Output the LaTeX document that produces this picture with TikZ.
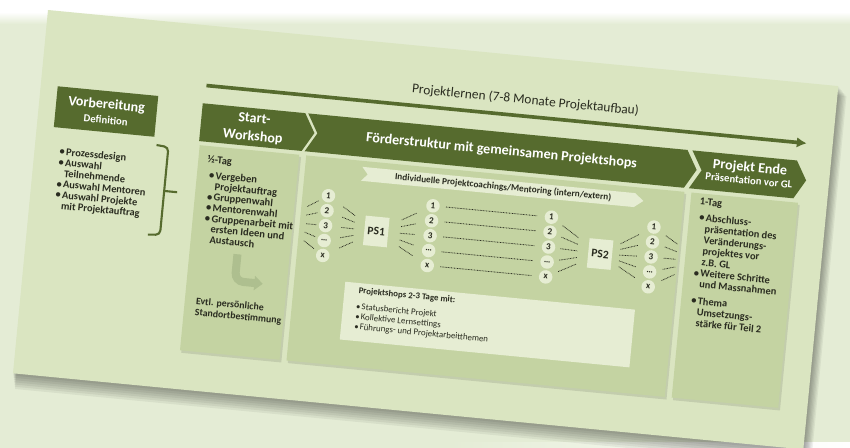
\documentclass[tikz,border=0pt]{standalone}
\usepackage{fontspec}
\setmainfont{Carlito}
\usetikzlibrary{arrows.meta,calc}

\definecolor{bggreen}{HTML}{E4ECD5}
\definecolor{slidegreen}{HTML}{DAE5C1}
\definecolor{darkolive}{HTML}{566B2E}
\definecolor{panelgreen}{HTML}{C4D3A2}
\definecolor{palegreen}{HTML}{E6EDD3}
\definecolor{stemgreen}{HTML}{AEBF8F}
\definecolor{inkgray}{HTML}{2A2C20}

\newcommand{\bl}{\makebox[1.3ex][l]{\textbullet}}
\newcommand{\ind}{\hspace*{1.3ex}}

\begin{document}
\begin{tikzpicture}[x=0.025cm, y=-0.025cm,
    >={Latex[length=7pt,width=7.5pt]},
    headtext/.style={text=white, font=\bfseries\fontsize{10}{12.8}\selectfont, align=center, inner sep=0pt},
    subtext/.style={text=white, font=\bfseries\fontsize{7.6}{9}\selectfont, inner sep=0pt},
    titletext/.style={text=inkgray, font=\fontsize{9.5}{11}\selectfont, inner sep=0pt},
    bodytext/.style={text=inkgray, font=\bfseries\fontsize{7.5}{7.6}\selectfont, align=left, inner sep=0pt},
    boxtext/.style={text=inkgray, font=\fontsize{6.3}{7.1}\selectfont, align=left, inner sep=0pt},
    num/.style={circle, fill=palegreen, minimum size=9.6pt, inner sep=0pt, text=inkgray, font=\bfseries\fontsize{6.5}{7}\selectfont},
    psbox/.style={fill=palegreen, minimum width=17pt, minimum height=21pt, inner sep=0pt, text=inkgray, font=\bfseries\fontsize{8.2}{9}\selectfont},
    coachline/.style={inkgray, line width=0.55pt, dash pattern=on 0.55pt off 0.55pt},
    panelshadow/.style={fill=black, opacity=0.1}]
  \useasboundingbox (0,0) rectangle (850,448);
  % Hintergrund
  \fill[bggreen] (0,0) rectangle (850,448);
  \fill[white] (0,0) rectangle (850,12);
  \shade[top color=white, bottom color=bggreen] (0,12) rectangle (850,24);
  \shade[left color=bggreen, right color=white] (450,442) rectangle (850,448);

  \begin{scope}[shift={(48,10)}, rotate=-5.5, transform shape]
    % Folie mit Schatten
    \foreach \k in {1,...,7}
      \fill[black, opacity=0.055] (\k*0.5,\k*1.3) rectangle (794+\k*1.3,365+\k*2.2);
    \fill[slidegreen] (0,0) rectangle (794,365);

    % Vorbereitung
    \fill[darkolive] (17,75) rectangle (118,116);
    \node[headtext] (vorb) at (67.5,89) {Vorbereitung};
    \node[subtext] (defi) at (68,104) {Definition};
    \node[bodytext, anchor=north west, font=\bfseries\fontsize{7.4}{7.7}\selectfont] (vorblist) at (25,135.5)
      {\bl Prozessdesign\\\bl Auswahl\\\ind Teilnehmende\\\bl Auswahl Mentoren\\\bl Auswahl Projekte\\\ind mit Projektauftrag};
    \draw[darkolive, line width=1.5pt, rounded corners=3pt] (121,124) -- (133,125) -- (133,213) -- (121,214);
    \draw[darkolive, line width=1.5pt] (133,169) -- (146,169);

    % Zeitpfeil
    \coordinate (arrS) at (165,60);
    \coordinate (arrE) at (768,60);
    \draw[->, darkolive, line width=2.6pt] (arrS) -- (arrE);
    \node[titletext] (ttl) at (484,44) {Projektlernen (7-8 Monate Projektaufbau)};

    % Kopfzeile
    \fill[darkolive] (163,78) -- (266,78) -- (277,97) -- (266,116) -- (163,116) -- cycle;
    \fill[darkolive] (269,78) -- (650,78) -- (661,97) -- (650,116) -- (269,116) -- (280,97) -- cycle;
    \fill[darkolive] (655,78) -- (760,78) -- (771,97) -- (760,116) -- (655,116) -- (666,97) -- cycle;
    \node[headtext] (hstart) at (216,98) {Start-\\Workshop};
    \node[headtext] (hfoerd) at (465,97) {Förderstruktur mit gemeinsamen Projektshops};
    \node[headtext] (hende) at (714,90) {Projekt Ende};
    \node[subtext] (hpraes) at (714,102.5) {Präsentation vor GL};

    % Felder
    \foreach \a/\b in {164/264, 271/651, 658/765} {
      \fill[panelshadow] (\a+1.5,122) rectangle (\b+2,328.5);
      \fill[panelgreen] (\a,120) rectangle (\b,326);
    }

    % Start-Workshop
    \node[bodytext, anchor=west] (half) at (173,134) {½-Tag};
    \node[bodytext, anchor=north west] (startlist) at (176,145)
      {\bl Vergeben\\\ind Projektauftrag\\\bl Gruppenwahl\\\bl Mentorenwahl\\\bl Gruppenarbeit mit\\\ind ersten Ideen und\\\ind Austausch};
    \draw[stemgreen, line width=5.7pt, rounded corners=6, -{Triangle[length=6pt,width=10pt]}] (212,225) -- (212,252) -- (240,252);
    \node[bodytext, anchor=north west, font=\bfseries\fontsize{7}{8.1}\selectfont] (evtl) at (175,271.5)
      {Evtl. persönliche\\Standortbestimmung};

    % Foerderstruktur
    \fill[palegreen] (328,126) -- (602,126) -- (611,133) -- (602,140) -- (328,140) -- (334,133) -- cycle;
    \node[bodytext, font=\bfseries\fontsize{6.6}{7}\selectfont] (banner) at (470,133) {Individuelle Projektcoachings/Mentoring (intern/extern)};
    \foreach \col/\u in {a/297, b/402, c/521, d/624}
      \foreach \t [count=\i] in {1,2,3,\dots,x}
        \node[num] (\col\i) at (\u,143+15*\i) {\t};
    \node[psbox] (ps1) at (348,189) {PS1};
    \node[psbox] (ps2) at (573,190) {PS2};
    \coordinate (hubL) at (250,188);
    \coordinate (hubR) at (675,188);
    \foreach \i in {1,...,5} {
      \draw[coachline] ($(a\i)!0.2!(hubL)$) -- ($(a\i)!0.43!(hubL)$);
      \draw[coachline] ($(a\i)!0.31!(ps1)$) -- ($(a\i)!0.56!(ps1)$);
      \draw[coachline] ($(b\i)!0.29!(ps1)$) -- ($(b\i)!0.56!(ps1)$);
      \draw[coachline] ($(b\i)!0.11!(c\i)$) -- ($(b\i)!0.88!(c\i)$);
      \draw[coachline] ($(c\i)!0.23!(ps2)$) -- ($(c\i)!0.56!(ps2)$);
      \draw[coachline] ($(d\i)!0.28!(ps2)$) -- ($(d\i)!0.62!(ps2)$);
      \draw[coachline] ($(d\i)!0.25!(hubR)$) -- ($(d\i)!0.49!(hubR)$);
    }
    \fill[palegreen] (322,242) rectangle (613,300);
    \node[boxtext, anchor=west, font=\bfseries\fontsize{6.3}{7.1}\selectfont] (shophead) at (336,250) {Projektshops 2-3 Tage mit:};
    \node[boxtext, anchor=north west] (shoplist) at (335,262)
      {\bl Statusbericht Projekt\\\bl Kollektive Lernsettings\\\bl Führungs- und Projektarbeitthemen};

    % Projekt Ende
    \node[bodytext, anchor=west] (oneday) at (667,129) {1-Tag};
    \node[bodytext, anchor=north west, font=\bfseries\fontsize{7.4}{7.9}\selectfont] (endlist) at (668,140)
      {\bl Abschluss-\\\ind präsentation des\\\ind Veränderungs-\\\ind projektes vor\\\ind z.B. GL\\\bl Weitere Schritte\\\ind und Massnahmen\\[4pt]\bl Thema\\\ind Umsetzungs-\\\ind stärke für Teil 2};
  \end{scope}
\end{tikzpicture}
\end{document}
